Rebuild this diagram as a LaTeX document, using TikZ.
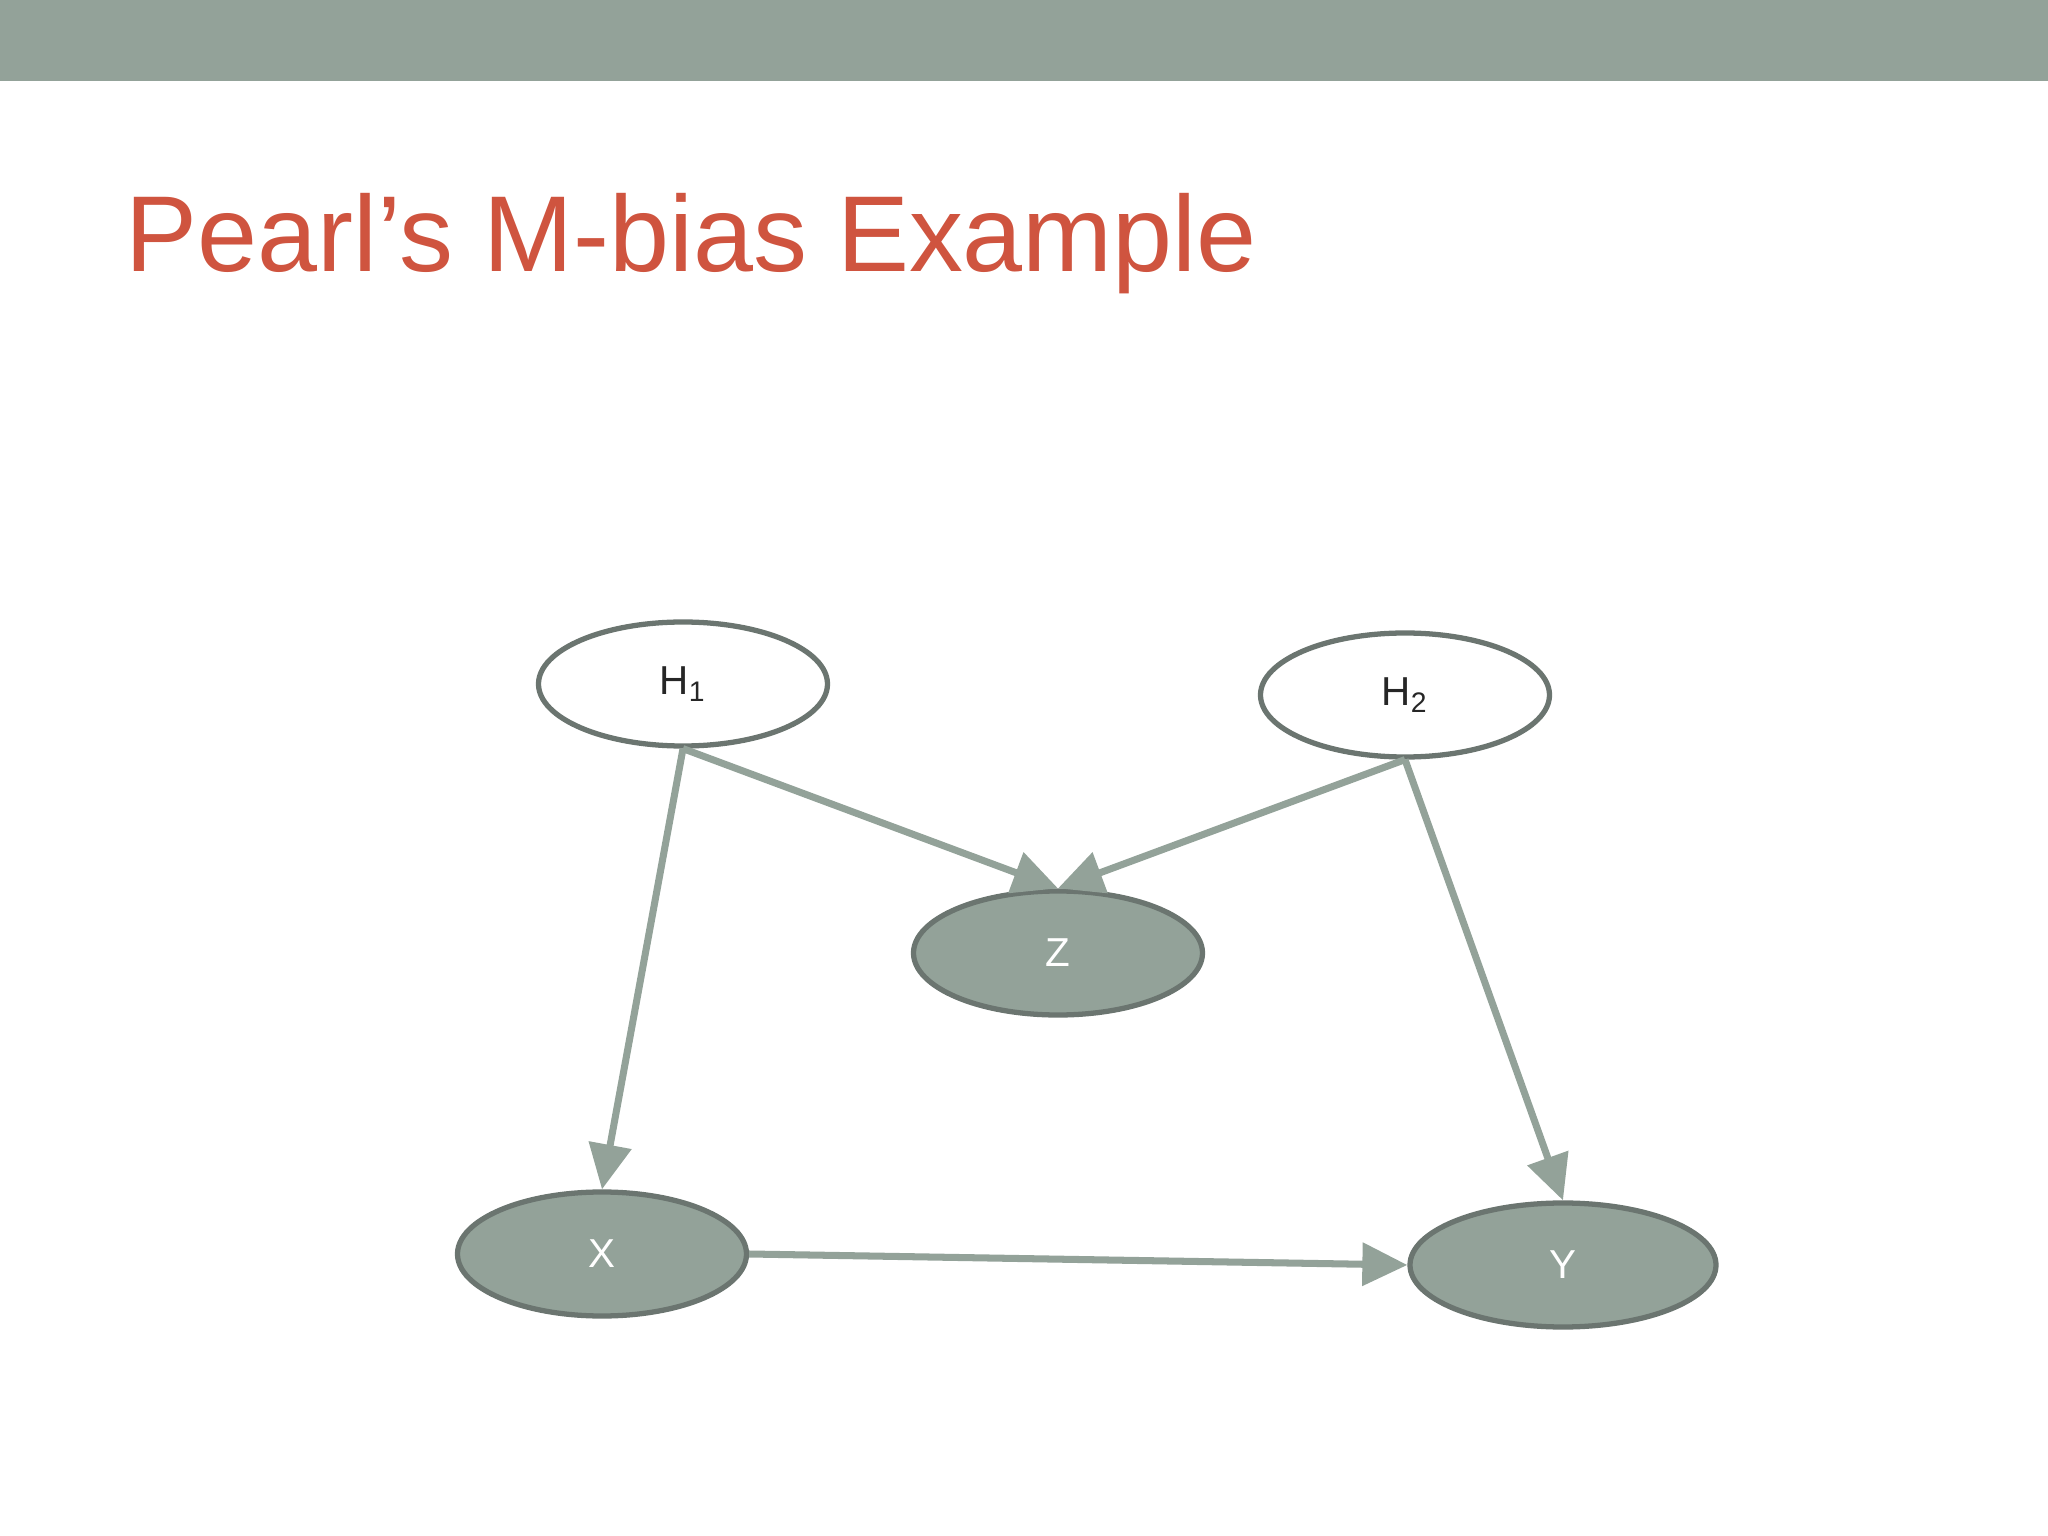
\documentclass[tikz,border=0pt]{standalone}
\usepackage{fontspec}
\setmainfont{Liberation Sans}
\usetikzlibrary{arrows.meta,shapes.geometric}
\definecolor{sage}{HTML}{93A299}
\definecolor{sagedark}{HTML}{6B7570}
\definecolor{titlered}{HTML}{CF543F}

\begin{document}
\begin{tikzpicture}[
    hidden/.style={ellipse,draw=sagedark,line width=1.5pt,fill=white,minimum width=2.89cm,minimum height=1.24cm,inner sep=0pt,text=black!85,font=\fontsize{11.5}{13}\selectfont},
    seen/.style={hidden,fill=sage,text=white},
    dep/.style={-{Triangle[length=4.5mm,width=4.2mm]},color=sage,line width=2pt}]
   \useasboundingbox (0,0) rectangle (20.48,-15.36);
   \fill[sage] (0,0) rectangle (20.48,-0.81);
   \draw (1.25,-2.72) node[anchor=base west,text=titlered,inner sep=0pt,font=\fontsize{30.7}{36}\selectfont] (title) {Pearl’s M-bias Example};

     \draw (6.83,-6.84) node[hidden] (h1) {H\textsubscript{1}};
     \draw (14.05,-6.95) node[hidden] (h2) {H\textsubscript{2}};
   \draw (10.58,-9.53) node[seen] (z) {Z};
      \draw (6.02,-12.54) node[seen] (x) {X};
      \draw (15.63,-12.65) node[seen,minimum width=3.06cm] (y) {Y};

      \path (h1.south) edge[dep] (z.north);
      \path (h2.south) edge[dep] (z.north);
      \path (h1.south) edge[dep] (x.north);
      \path (h2.south) edge[dep] (y.north);
      \path (x.east) edge[dep] (y.west);

\end{tikzpicture}
\end{document}
